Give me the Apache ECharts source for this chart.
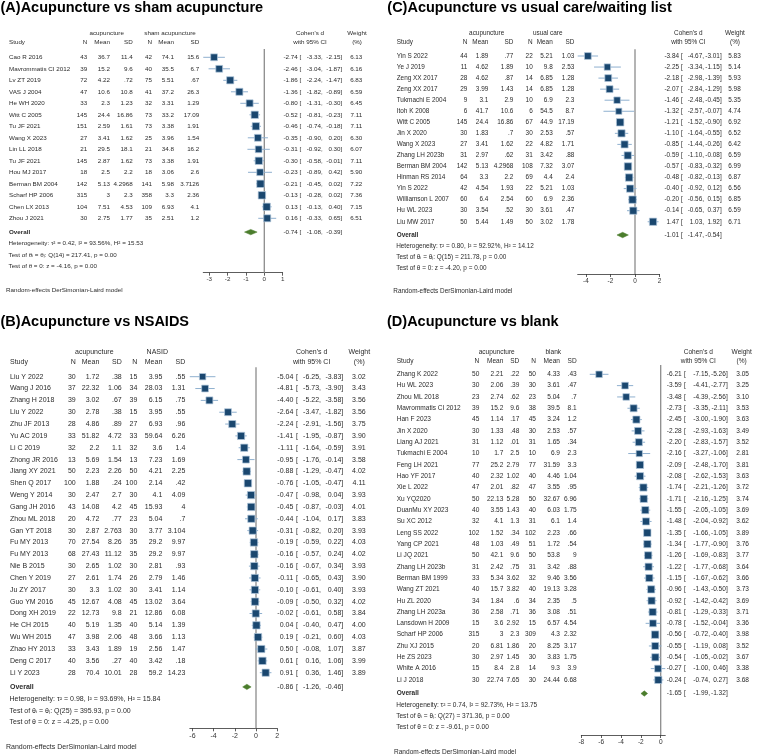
<!DOCTYPE html>
<html>
<head>
<meta charset="utf-8">
<script src="https://cdn.jsdelivr.net/npm/echarts@6/dist/echarts.min.js"></script>
<style>html,body{margin:0;padding:0;background:#fff}#main{width:758px;height:756px}</style>
</head>
<body>
<div id="main"></div>
<script>
// ---- (A) sham acupuncture
const studiesA = ['Cao R 2016','Mavrommatis CI 2012','Lv ZT 2019','VAS J 2004','He WH 2020','Witt C 2005','Tu JF 2021','Wang X 2023','Lin LL 2018','Tu JF 2021','Hou MJ 2017','Berman BM 2004','Scharf HP 2006','Chen LX 2013','Zhou J 2021'];
const acuA = [['43','36.7','11.4'],['39','15.2','9.6'],['72','4.22','.72'],['47','10.6','10.8'],['33','2.3','1.23'],['145','24.4','16.86'],['151','2.59','1.61'],['27','3.41','1.62'],['21','29.5','18.1'],['145','2.87','1.62'],['18','2.5','2.2'],['142','5.13','4.2968'],['315','3','2.3'],['104','7.51','4.53'],['30','2.75','1.77']];
const ctlA = [['42','74.1','15.6'],['40','35.5','6.7'],['75','5.51','.67'],['41','37.2','26.3'],['32','3.31','1.29'],['73','33.2','17.09'],['73','3.38','1.91'],['25','3.96','1.54'],['21','34.8','16.2'],['73','3.38','1.91'],['18','3.06','2.6'],['141','5.98','3.7126'],['358','3.3','2.36'],['109','6.93','4.1'],['35','2.51','1.2']];
const effA = [[-2.74,-3.33,-2.15],[-2.46,-3.04,-1.87],[-1.86,-2.24,-1.47],[-1.36,-1.82,-0.89],[-0.80,-1.31,-0.30],[-0.52,-0.81,-0.23],[-0.46,-0.74,-0.18],[-0.35,-0.90,0.20],[-0.31,-0.92,0.30],[-0.30,-0.58,-0.01],[-0.23,-0.89,0.42],[-0.21,-0.45,0.02],[-0.13,-0.28,0.02],[0.13,-0.13,0.40],[0.16,-0.33,0.65]];
const wtA = [6.13,6.16,6.83,6.59,6.45,7.11,7.11,6.30,6.07,7.11,5.90,7.22,7.36,7.15,6.51];
const overallA = [-0.74,-1.08,-0.39];
const hetA = ['0.42','93.56','15.53','14','217.41','-4.16'];
const ticksA = [-3,-2,-1,0,1];

// ---- (B) NSAIDs
const studiesB = ['Liu Y 2022','Wang J 2016','Zhang H 2018','Liu Y 2022','Zhu JF 2013','Yu AC 2019','Li C 2019','Zhong JR 2016','Jiang XY 2021','Shen Q 2017','Weng Y 2014','Gang JH 2016','Zhou ML 2018','Gan YT 2018','Fu MY 2013','Fu MY 2013','Nie B 2015','Chen Y 2019','Ju ZY 2017','Guo YM 2016','Dong XH 2019','He CH 2015','Wu WH 2015','Zhao HY 2013','Deng C 2017','Li Y 2023'];
const acuB = [['30','1.72','.38'],['37','22.32','1.06'],['39','3.02','.67'],['30','2.78','.38'],['28','4.86','.89'],['33','51.82','4.72'],['32','2.2','1.1'],['13','5.69','1.54'],['50','2.23','2.26'],['100','1.88','.24'],['30','2.47','2.7'],['43','14.08','4.2'],['20','4.72','.77'],['30','2.87','2.763'],['70','27.54','8.26'],['68','27.43','11.12'],['30','2.65','1.02'],['27','2.61','1.74'],['30','3.3','1.02'],['45','12.67','4.08'],['22','12.73','9.8'],['40','5.19','1.35'],['47','3.98','2.06'],['33','3.43','1.89'],['40','3.56','.27'],['28','70.4','10.01']];
const ctlB = [['15','3.95','.55'],['34','28.03','1.31'],['39','6.15','.75'],['15','3.95','.55'],['27','6.93','.96'],['33','59.64','6.26'],['32','3.6','1.4'],['13','7.23','1.69'],['50','4.21','2.25'],['100','2.14','.42'],['30','4.1','4.09'],['45','15.93','4'],['23','5.04','.7'],['30','3.77','3.104'],['35','29.2','9.97'],['35','29.2','9.97'],['30','2.81','.93'],['26','2.79','1.46'],['30','3.41','1.14'],['45','13.02','3.64'],['21','12.86','6.08'],['40','5.14','1.39'],['48','3.66','1.13'],['19','2.56','1.47'],['40','3.42','.18'],['28','59.2','14.23']];
const effB = [[-5.04,-6.25,-3.83],[-4.81,-5.73,-3.90],[-4.40,-5.22,-3.58],[-2.64,-3.47,-1.82],[-2.24,-2.91,-1.56],[-1.41,-1.95,-0.87],[-1.11,-1.64,-0.59],[-0.95,-1.76,-0.14],[-0.88,-1.29,-0.47],[-0.76,-1.05,-0.47],[-0.47,-0.98,0.04],[-0.45,-0.87,-0.03],[-0.44,-1.04,0.17],[-0.31,-0.82,0.20],[-0.19,-0.59,0.22],[-0.16,-0.57,0.24],[-0.16,-0.67,0.34],[-0.11,-0.65,0.43],[-0.10,-0.61,0.40],[-0.09,-0.50,0.32],[-0.02,-0.61,0.58],[0.04,-0.40,0.47],[0.19,-0.21,0.60],[0.50,-0.08,1.07],[0.61,0.16,1.06],[0.91,0.36,1.46]];
const wtB = [3.02,3.43,3.56,3.56,3.75,3.90,3.91,3.58,4.02,4.11,3.93,4.01,3.83,3.93,4.03,4.02,3.93,3.90,3.93,4.02,3.84,4.00,4.03,3.87,3.99,3.89];
const overallB = [-0.86,-1.26,-0.46];
const hetB = ['0.98','93.69','15.84','25','395.93','-4.25'];
const ticksB = [-6,-4,-2,0,2];

// ---- (C) usual care / waiting list
const studiesC = ['Yin S 2022','Ye J 2019','Zeng XX 2017','Zeng XX 2017','Tukmachi E 2004','Itoh K 2008','Witt C 2005','Jin X 2020','Wang X 2023','Zhang LH 2023b','Berman BM 2004','Hinman RS 2014','Yin S 2022','Williamson L 2007','Hu WL 2023','Liu MW 2017'];
const acuC = [['44','1.89','.77'],['11','4.62','1.89'],['28','4.62','.87'],['29','3.99','1.43'],['9','3.1','2.9'],['6','41.7','10.6'],['145','24.4','16.86'],['30','1.83','.7'],['27','3.41','1.62'],['31','2.97','.62'],['142','5.13','4.2968'],['64','3.3','2.2'],['42','4.54','1.93'],['60','6.4','2.54'],['30','3.54','.52'],['50','5.44','1.49']];
const ctlC = [['22','5.21','1.03'],['10','9.8','2.53'],['14','6.85','1.28'],['14','6.85','1.28'],['10','6.9','2.3'],['6','54.5','8.7'],['67','44.9','17.19'],['30','2.53','.57'],['22','4.82','1.71'],['31','3.42','.88'],['108','7.32','3.07'],['69','4.4','2.4'],['22','5.21','1.03'],['60','6.9','2.36'],['30','3.61','.47'],['50','3.02','1.78']];
const effC = [[-3.84,-4.67,-3.01],[-2.25,-3.34,-1.15],[-2.18,-2.98,-1.39],[-2.07,-2.84,-1.29],[-1.46,-2.48,-0.45],[-1.32,-2.57,-0.07],[-1.21,-1.52,-0.90],[-1.10,-1.64,-0.55],[-0.85,-1.44,-0.26],[-0.59,-1.10,-0.08],[-0.57,-0.83,-0.32],[-0.48,-0.82,-0.13],[-0.40,-0.92,0.12],[-0.20,-0.56,0.15],[-0.14,-0.65,0.37],[1.47,1.03,1.92]];
const wtC = [5.83,5.14,5.93,5.98,5.35,4.74,6.92,6.52,6.42,6.59,6.99,6.87,6.56,6.85,6.59,6.71];
const overallC = [-1.01,-1.47,-0.54];
const hetC = ['0.80','92.92','14.12','15','211.78','-4.20'];
const ticksC = [-4,-2,0,2];

// ---- (D) blank
const studiesD = ['Zhang K 2022','Hu WL 2023','Zhou ML 2018','Mavrommatis CI 2012','Han F 2023','Jin X 2020','Liang AJ 2021','Tukmachi E 2004','Feng LH 2021','Hao YF 2017','Xie L 2022','Xu YQ2020','DuanMu XY 2023','Su XC 2012','Leng SS 2022','Yang CP 2021','Li JQ 2021','Zhang LH 2023b','Berman BM 1999','Wang ZT 2021','Hu ZL 2020','Zhang LH 2023a','Lansdown H 2009','Scharf HP 2006','Zhu XJ 2015','He ZS 2023','White A 2016','Li J 2018'];
const acuD = [['50','2.21','.22'],['30','2.06','.39'],['23','2.74','.62'],['39','15.2','9.6'],['45','1.14','.17'],['30','1.33','.48'],['31','1.12','.01'],['10','1.7','2.5'],['77','25.2','2.79'],['40','2.32','1.02'],['47','2.01','.82'],['50','22.13','5.28'],['40','3.55','1.43'],['32','4.1','1.3'],['102','1.52','.34'],['48','1.03','.49'],['50','42.1','9.6'],['31','2.42','.75'],['33','5.34','3.62'],['40','15.7','3.82'],['34','1.84','.6'],['36','2.58','.71'],['15','3.6','2.92'],['315','3','2.3'],['20','6.81','1.86'],['30','2.97','1.45'],['15','8.4','2.8'],['30','22.74','7.65']];
const ctlD = [['50','4.33','.43'],['30','3.61','.47'],['23','5.04','.7'],['38','39.5','8.1'],['45','3.24','1.2'],['30','2.53','.57'],['31','1.65','.34'],['10','6.9','2.3'],['77','31.59','3.3'],['40','4.46','1.04'],['47','3.55','.95'],['50','32.67','6.96'],['40','6.03','1.75'],['31','6.1','1.4'],['102','2.23','.66'],['51','1.72','.54'],['50','53.8','9'],['31','3.42','.88'],['32','9.46','3.56'],['40','19.13','3.28'],['34','2.35','.5'],['36','3.08','.51'],['15','6.57','4.54'],['309','4.3','2.32'],['20','8.25','3.17'],['30','3.83','1.75'],['14','9.3','3.9'],['30','24.44','6.68']];
const effD = [[-6.21,-7.15,-5.26],[-3.59,-4.41,-2.77],[-3.48,-4.39,-2.56],[-2.73,-3.35,-2.11],[-2.45,-3.00,-1.90],[-2.28,-2.93,-1.63],[-2.20,-2.83,-1.57],[-2.16,-3.27,-1.06],[-2.09,-2.48,-1.70],[-2.08,-2.62,-1.53],[-1.74,-2.21,-1.26],[-1.71,-2.16,-1.25],[-1.55,-2.05,-1.05],[-1.48,-2.04,-0.92],[-1.35,-1.66,-1.05],[-1.34,-1.77,-0.90],[-1.26,-1.69,-0.83],[-1.22,-1.77,-0.68],[-1.15,-1.67,-0.62],[-0.96,-1.43,-0.50],[-0.92,-1.42,-0.42],[-0.81,-1.29,-0.33],[-0.78,-1.52,-0.04],[-0.56,-0.72,-0.40],[-0.55,-1.19,0.08],[-0.54,-1.05,-0.02],[-0.27,-1.00,0.46],[-0.24,-0.74,0.27]];
const wtD = [3.05,3.25,3.10,3.53,3.63,3.49,3.52,2.81,3.81,3.63,3.72,3.74,3.69,3.62,3.89,3.76,3.77,3.64,3.66,3.73,3.69,3.71,3.36,3.98,3.52,3.67,3.38,3.68];
const overallD = [-1.65,-1.99,-1.32];
const hetD = ['0.74','92.73','13.75','27','371.36','-9.61'];
const ticksD = [-8,-6,-4,-2,0];

// layout of each panel (pixel positions)
var panels = [
  {title:'(A)Acupuncture vs sham acupuncture', tx:0.5, ty:7.5, ctlName:'sham acupuncture',
   study:studiesA, acu:acuA, ctl:ctlA, eff:effA, wt:wtA, ov:overallA, het:hetA, ticks:ticksA,
   fs:6.25, top:49, bottom:272.7, y1:57.3, pitch:11.5, zeroX:264.3, unit:18.33,
   h1:33, h2:42, xs:9, cols:[87.3,110,132.7,152,174,199.3], g1:106.7, g2:170,
   xe:297.7, xb:299.5, xl:322.7, xu:342.3, xw:362.3, xc:310, xwc:357, fx:6, fy:290.7},
  {title:'(B)Acupuncture vs NSAIDS', tx:0.5, ty:321.7, ctlName:'NASID',
   study:studiesB, acu:acuB, ctl:ctlB, eff:effB, wt:wtB, ov:overallB, het:hetB, ticks:ticksB,
   fs:7.0, top:367.3, bottom:728.3, y1:376.7, pitch:11.84, zeroX:256, unit:10.59,
   h1:352.3, h2:361.7, xs:10, cols:[75.7,99.3,121.7,137.3,162.3,185.3], g1:94.3, g2:157.3,
   xe:293.3, xb:296, xl:321, xu:343.3, xw:365.7, xc:311.7, xwc:359.3, fx:6, fy:746.7},
  {title:'(C)Acupuncture vs usual care/waiting list', tx:387.3, ty:7.5, ctlName:'usual care',
   study:studiesC, acu:acuC, ctl:ctlC, eff:effC, wt:wtC, ov:overallC, het:hetC, ticks:ticksC,
   fs:6.4, top:49.3, bottom:274, y1:56, pitch:11.05, zeroX:635, unit:12.27,
   h1:33.3, h2:42.3, xs:396.7, cols:[467.3,488.3,513.3,532.7,552.7,574.3], g1:486.7, g2:547.7,
   xe:679, xb:681, xl:704, xu:721.7, xw:740.7, xc:688.3, xwc:735, fx:393.3, fy:291.3},
  {title:'(D)Acupuncture vs blank', tx:387, ty:321.7, ctlName:'blank',
   study:studiesD, acu:acuD, ctl:ctlD, eff:effD, wt:wtD, ov:overallD, het:hetD, ticks:ticksD,
   fs:6.55, top:365, bottom:735, y1:374.3, pitch:11.32, zeroX:660.7, unit:9.925,
   h1:352.3, h2:361, xs:396.7, cols:[479.3,503.3,519.3,536,560,576.7], g1:496.7, g2:553.3,
   xe:681.7, xb:684, xl:710, xu:727.7, xw:749, xc:698.3, xwc:741.7, fx:394, fy:752}
];

var FONT = '"Liberation Sans", "DejaVu Sans", sans-serif';
var INK = '#2b2b2b';

function txt(s, x, y, align, font, fill) {
  return {type:'text', silent:true, style:{text:String(s), x:x, y:y, font:font, fill:fill || INK,
    align:align, textAlign:align, verticalAlign:'middle', textVerticalAlign:'middle'}};
}
function f2(v) { return v.toFixed(2); }

// effect size text: "-2.74 [ -3.33, -2.15]"
function effText(p, e, y, font) {
  return [
    txt(f2(e[0]), p.xe, y, 'right', font),
    txt('[', p.xb, y, 'left', font),
    txt(f2(e[1]) + ',', p.xl, y, 'right', font),
    txt(f2(e[2]) + ']', p.xu, y, 'right', font)
  ];
}

var grids = [], xAxes = [], yAxes = [], series = [], graphics = [];

panels.forEach(function (p, k) {
  var n = p.study.length;
  var los = p.eff.map(function (e) { return e[1]; });
  var his = p.eff.map(function (e) { return e[2]; });
  var xmin = Math.min.apply(null, los.concat(p.ticks));
  var xmax = Math.max.apply(null, his.concat(p.ticks));
  var ya = 1 - (p.y1 - p.top) / p.pitch;
  var yb = ya + (p.bottom - p.top) / p.pitch;
  var ovRow = n + 1.2;
  var wMax = Math.max.apply(null, p.wt);
  var font = p.fs + 'px ' + FONT;
  var bold = 'bold ' + p.fs + 'px ' + FONT;

  grids.push({left: p.zeroX + xmin * p.unit, width: (xmax - xmin) * p.unit,
              top: p.top, height: p.bottom - p.top});
  xAxes.push({gridIndex:k, type:'value', min:xmin, max:xmax,
    axisLine:{show:true, lineStyle:{color:'#333', width:0.8}},
    axisTick:{show:true, length:3, customValues:p.ticks, lineStyle:{color:'#333', width:0.8}},
    axisLabel:{customValues:p.ticks, fontSize:p.fs, fontFamily:FONT, color:'#333', margin:4},
    splitLine:{show:false}});
  yAxes.push({gridIndex:k, type:'value', inverse:true, min:ya, max:yb, show:false});

  // no-effect line at 0
  series.push({type:'custom', xAxisIndex:k, yAxisIndex:k, z:1, silent:true,
    data:[[0, ya, yb]],
    renderItem:function (params, api) {
      var a = api.coord([0, api.value(1)]);
      var b = api.coord([0, api.value(2)]);
      return {type:'line', shape:{x1:a[0], y1:a[1], x2:b[0], y2:b[1]},
              style:{stroke:'#8c8c8c', lineWidth:1.3}};
    }});

  // study rows
  series.push({type:'custom', xAxisIndex:k, yAxisIndex:k, z:2, silent:true,
    encode:{x:[0,2,3], y:1},
    data:p.eff.map(function (e, i) { return [e[0], i + 1, e[1], e[2], p.wt[i]]; }),
    renderItem:function (params, api) {
      var i = params.dataIndex, row = api.value(1);
      var c = api.coord([api.value(0), row]);
      var lo = api.coord([api.value(2), row]);
      var hi = api.coord([api.value(3), row]);
      var s = 7.45 * Math.sqrt(api.value(4) / wMax);
      var y = c[1];
      var kids = [
        {type:'line', shape:{x1:lo[0], y1:y, x2:hi[0], y2:y}, style:{stroke:'#8fb0cf', lineWidth:1}},
        {type:'rect', shape:{x:c[0] - s / 2, y:y - s / 2, width:s, height:s},
         style:{fill:'#1a476f', stroke:'#b3c8dc', lineWidth:0.7}},
        txt(p.study[i], p.xs, y, 'left', font)
      ];
      var cells = p.acu[i].concat(p.ctl[i]);
      cells.forEach(function (v, j) { kids.push(txt(v, p.cols[j], y, 'right', font)); });
      kids = kids.concat(effText(p, p.eff[i], y, font));
      kids.push(txt(p.wt[i].toFixed(2), p.xw, y, 'right', font));
      return {type:'group', children:kids};
    }});

  // overall diamond + heterogeneity
  var h = p.het;
  var hetLines = [
    'Heterogeneity: \u03c4\u00b2 = ' + h[0] + ', I\u00b2 = ' + h[1] + '%, H\u00b2 = ' + h[2],
    'Test of \u03b8\u1d62 = \u03b8\u2c7c: Q(' + h[3] + ') = ' + h[4] + ', p = 0.00',
    'Test of \u03b8 = 0: z = ' + h[5] + ', p = 0.00'
  ];
  series.push({type:'custom', xAxisIndex:k, yAxisIndex:k, z:3, silent:true,
    encode:{x:[0,2,3], y:1},
    data:[[p.ov[0], ovRow, p.ov[1], p.ov[2]]],
    renderItem:function (params, api) {
      var row = api.value(1);
      var c = api.coord([api.value(0), row]);
      var lo = api.coord([api.value(2), row]);
      var hi = api.coord([api.value(3), row]);
      var y = c[1], dh = 2.7;
      var kids = [
        {type:'polygon', shape:{points:[[lo[0], y], [c[0], y - dh], [hi[0], y], [c[0], y + dh]]},
         style:{fill:'#4b7d2c', stroke:'#4b7d2c', lineWidth:0.5}},
        txt('Overall', p.xs, y, 'left', bold)
      ].concat(effText(p, p.ov, y, font));
      hetLines.forEach(function (s, j) {
        var yy = api.coord([0, row + j + 1])[1];
        kids.push(txt(s, p.xs - 0.5, yy, 'left', font));
      });
      return {type:'group', children:kids};
    }});

  // titles, headers, footers
  graphics.push(txt(p.title, p.tx, p.ty, 'left', 'bold 14.5px ' + FONT, '#000'));
  graphics.push(txt('acupuncture', p.g1, p.h1, 'center', font));
  graphics.push(txt(p.ctlName, p.g2, p.h1, 'center', font));
  graphics.push(txt("Cohen's d", p.xc, p.h1, 'center', font));
  graphics.push(txt('Weight', p.xwc, p.h1, 'center', font));
  graphics.push(txt('Study', p.xs, p.h2, 'left', font));
  ['N','Mean','SD','N','Mean','SD'].forEach(function (s, j) {
    graphics.push(txt(s, p.cols[j], p.h2, 'right', font));
  });
  graphics.push(txt('with 95% CI', p.xc, p.h2, 'center', font));
  graphics.push(txt('(%)', p.xwc, p.h2, 'center', font));
  graphics.push(txt('Random-effects DerSimonian-Laird model', p.fx, p.fy, 'left', font));
});

var myChart = echarts.init(document.getElementById('main'));
var option = {
  animation:false,
  backgroundColor:'#fff',
  grid:grids,
  xAxis:xAxes,
  yAxis:yAxes,
  series:series,
  graphic:{elements:graphics}
};
myChart.setOption(option);
</script>
</body>
</html>
